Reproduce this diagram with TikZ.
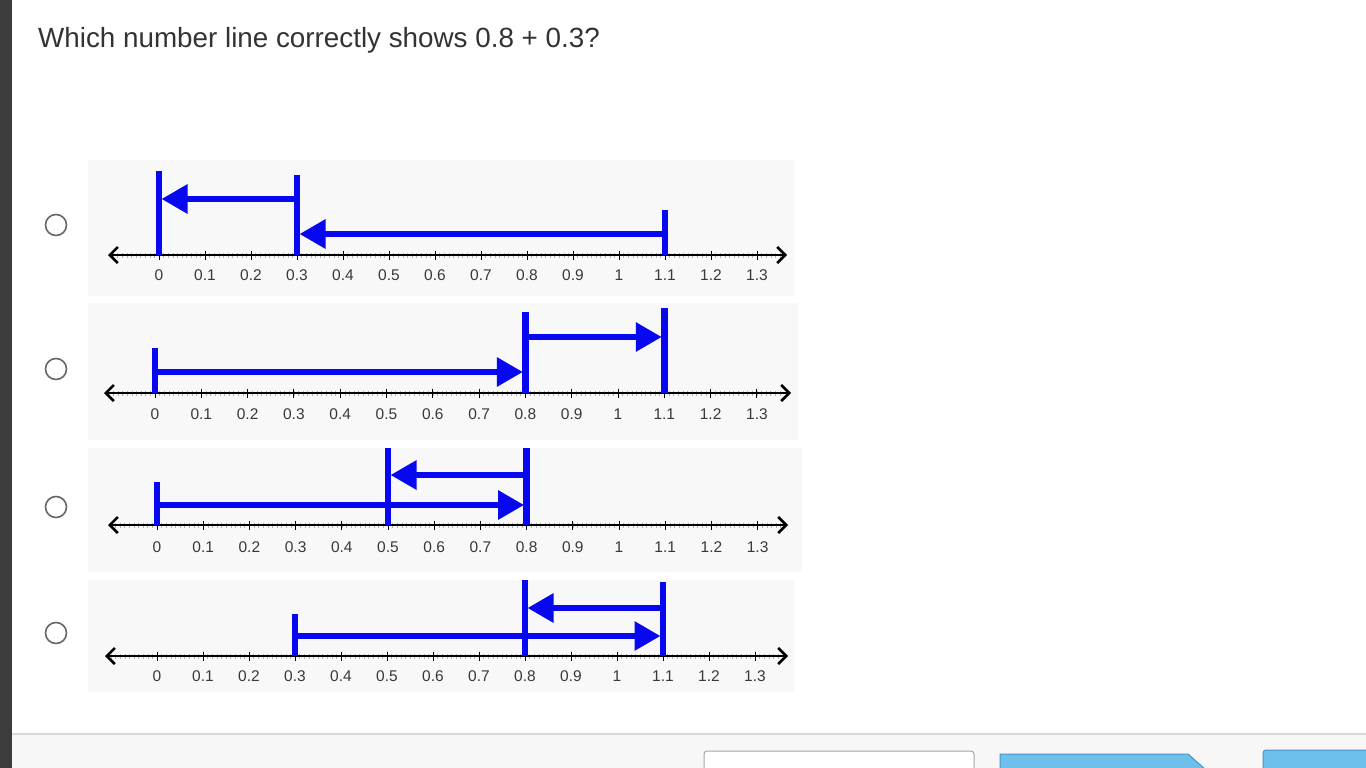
\documentclass[tikz,border=0pt]{standalone}
\usepackage{fontspec}
\setmainfont{Liberation Sans}
\usetikzlibrary{arrows.meta}
\definecolor{lineblue}{RGB}{8,8,240}
\definecolor{panelgray}{RGB}{248,248,248}
\definecolor{textdark}{RGB}{51,51,51}
\definecolor{stripdark}{RGB}{60,60,60}
\definecolor{btnblue}{RGB}{110,192,236}
\definecolor{btnedge}{RGB}{74,146,200}

\begin{document}
\begin{tikzpicture}[x=1pt, y=-1pt,
    bar/.style={lineblue, line width=6.5pt},
    hop/.style={lineblue, line width=6pt, -{Triangle[length=26pt, width=28pt]}, shorten >=2.5pt},
    axisline/.style={line width=1.8pt,
      {Straight Barb[length=8pt, width=16pt, line width=2.6pt]}-{Straight Barb[length=8pt, width=16pt, line width=2.6pt]}},
    radio/.style={draw=gray!80!black, line width=1.6pt, circle, minimum size=21pt, inner sep=0pt},
    lab/.style={font=\fontsize{15.5}{15.5}\selectfont, text=black!78, inner sep=0pt}
  ]
    \useasboundingbox (0,0) rectangle (1366,768);
    \fill[white] (0,0) rectangle (1366,768);
    \fill[stripdark] (0,0) rectangle (12,768);

    \node[anchor=base west, font=\fontsize{27.8}{32}\selectfont, text=textdark, inner sep=0pt]
      (question) at (38,48) {Which number line correctly shows 0.8 + 0.3?};

    % one number line per choice
    \foreach \n/\by/\bb/\br/\ay/\xo/\st/\tl/\tr/\ly in {
        1/160/296/795/255/159/46/108/787/275,
        2/303/440/798/393/155/46.3/104/791/414,
        3/448/572/802/525/157/46.2/108/788/547,
        4/580/692/795/656/157/46/105/788/676} {
      \fill[panelgray] (88,\by) rectangle (\br,\bb);
      \foreach \m in {-10,...,135}
        \draw[gray!60, line width=0.6pt] ({\xo+\m*\st/10}, \ay-2.5) -- ++(0,5);
      \coordinate (a\n-l) at (\tl,\ay);
      \coordinate (a\n-r) at (\tr,\ay);
      \draw[axisline] (a\n-l) -- (a\n-r);
      \foreach \k/\lbl in {0/0,1/0.1,2/0.2,3/0.3,4/0.4,5/0.5,6/0.6,7/0.7,8/0.8,9/0.9,
                           10/1,11/1.1,12/1.2,13/1.3} {
        \coordinate (n\n-\k) at ({\xo+\k*\st}, \ay);
        \draw[black, line width=1pt] ([yshift=4.5pt]n\n-\k) -- ([yshift=-4.5pt]n\n-\k);
        \node[lab] (l\n-\k) at ({\xo+\k*\st}, \ly) {\lbl};
      }
    }

    % choice 1
    \draw[bar] (n1-0) -- ([yshift=84pt]n1-0);
    \draw[bar] (n1-3) -- ([yshift=80pt]n1-3);
    \draw[bar] (n1-11) -- ([yshift=45pt]n1-11);
    \draw[hop] ([yshift=56pt]n1-3) -- ([yshift=56pt]n1-0);
    \draw[hop] ([yshift=21pt]n1-11) -- ([yshift=21pt]n1-3);

    % choice 2
    \draw[bar] (n2-0) -- ([yshift=45pt]n2-0);
    \draw[bar] (n2-8) -- ([yshift=81pt]n2-8);
    \draw[bar] (n2-11) -- ([yshift=85pt]n2-11);
    \draw[hop] ([yshift=21pt]n2-0) -- ([yshift=21pt]n2-8);
    \draw[hop] ([yshift=56pt]n2-8) -- ([yshift=56pt]n2-11);

    % choice 3
    \draw[bar] (n3-0) -- ([yshift=43pt]n3-0);
    \draw[bar] (n3-5) -- ([yshift=77pt]n3-5);
    \draw[bar] (n3-8) -- ([yshift=77pt]n3-8);
    \draw[hop] ([yshift=20pt]n3-0) -- ([yshift=20pt]n3-8);
    \draw[hop] ([yshift=50pt]n3-8) -- ([yshift=50pt]n3-5);

    % choice 4
    \draw[bar] (n4-3) -- ([yshift=42pt]n4-3);
    \draw[bar] (n4-8) -- ([yshift=76pt]n4-8);
    \draw[bar] (n4-11) -- ([yshift=74pt]n4-11);
    \draw[hop] ([yshift=20pt]n4-3) -- ([yshift=20pt]n4-11);
    \draw[hop] ([yshift=48pt]n4-11) -- ([yshift=48pt]n4-8);

    \foreach \n/\y in {1/225,2/369,3/507,4/633}
      \node[radio] (r\n) at (56,\y) {};

    % footer bar and buttons
    \fill[gray!6] (12,734) rectangle (1366,768);
    \draw[gray!30, line width=1.5pt] (12,734) -- (1366,734);
    \draw[fill=white, draw=gray!70, line width=1pt, rounded corners=3pt]
      (704,770) |- (974,751) -- (974,770);
    \filldraw[fill=btnblue, draw=btnedge, line width=1pt]
      (1000,770) -- (1000,754) -- (1188,754) -- (1206,770);
    \filldraw[fill=btnblue, draw=btnedge, line width=1pt, rounded corners=3pt]
      (1263,770) |- (1370,750) -- (1370,770);
  \end{tikzpicture}
\end{document}
